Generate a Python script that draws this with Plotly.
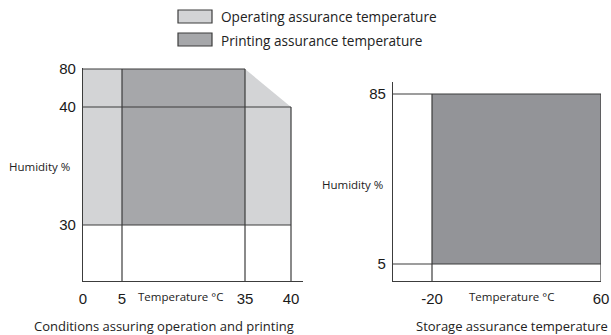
import numpy as np
import plotly.graph_objects as go

# --- Operating / printing conditions (left panel) ---
op_temp_ticks = [0, 5, 35, 40]          # °C
op_hum_ticks = [80, 40, 30]             # %
# operating region outline (temperature, humidity)
operating_temp = [0, 0, 35, 40, 40]
operating_hum = [30, 80, 80, 40, 30]
# printing region (rectangle)
printing_temp = [5, 35]
printing_hum = [30, 80]

# --- Storage conditions (right panel) ---
st_temp_ticks = [-20, 60]
st_hum_ticks = [85, 5]
storage_temp = [-20, 60]
storage_hum = [5, 85]

LIGHT = "#d3d4d6"
MID = "#a6a7aa"
DARK = "#939498"
EDGE = "#3c3c3c"
NUM_FONT = dict(family="Liberation Sans, Arial", size=15, color="#1a1a1a")
TXT = "Open Sans"

W, H = 611, 335


# Schematic (non-linear) scales used by the diagram
def op_x(t):
    return np.interp(t, [0, 5, 35, 40, 45], [0, 39, 162, 208, 220])


def op_y(h):
    return np.interp(h, [0, 30, 40, 80, 85], [0, 56, 174, 212, 217])


def st_x(t):
    return np.interp(t, [-40, -20, 60], [0, 39, 208])


def st_y(h):
    return np.interp(h, [0, 5, 85, 90], [0, 17, 187, 197])


def px(x):
    return x / W


def py(y):
    return 1 - y / H


fig = go.Figure()

# left panel fills
fig.add_trace(go.Scatter(x=op_x(operating_temp), y=op_y(operating_hum), fill="toself",
                         fillcolor=LIGHT, line=dict(width=0), mode="lines",
                         xaxis="x", yaxis="y", hoverinfo="skip"))
fig.add_trace(go.Scatter(x=op_x([printing_temp[0], printing_temp[0], printing_temp[1], printing_temp[1]]),
                         y=op_y([printing_hum[0], printing_hum[1], printing_hum[1], printing_hum[0]]),
                         fill="toself", fillcolor=MID, line=dict(width=0), mode="lines",
                         xaxis="x", yaxis="y", hoverinfo="skip"))

# left panel grid segments
lx, ly = [], []
for h, tmax in [(80, 35), (40, 40), (30, 40)]:
    lx += [op_x(0), op_x(tmax), None]
    ly += [op_y(h), op_y(h), None]
for t, hmax in [(5, 80), (35, 80), (40, 40)]:
    lx += [op_x(t), op_x(t), None]
    ly += [0, op_y(hmax), None]
fig.add_trace(go.Scatter(x=lx, y=ly, mode="lines", line=dict(color=EDGE, width=1.2),
                         xaxis="x", yaxis="y", hoverinfo="skip"))

# right panel fill
fig.add_trace(go.Scatter(x=st_x([storage_temp[0], storage_temp[0], storage_temp[1], storage_temp[1]]),
                         y=st_y([storage_hum[0], storage_hum[1], storage_hum[1], storage_hum[0]]),
                         fill="toself", fillcolor=DARK, line=dict(width=0), mode="lines",
                         xaxis="x2", yaxis="y2", hoverinfo="skip"))
rx, ry = [], []
for h in storage_hum:
    rx += [0, st_x(storage_temp[1]), None]
    ry += [st_y(h), st_y(h), None]
for t in storage_temp:
    rx += [st_x(t), st_x(t), None]
    ry += [0, st_y(storage_hum[1]), None]
fig.add_trace(go.Scatter(x=rx, y=ry, mode="lines", line=dict(color=EDGE, width=1.2),
                         xaxis="x2", yaxis="y2", hoverinfo="skip"))

axis_common = dict(showgrid=False, zeroline=False, showline=True, linecolor=EDGE,
                   linewidth=1.2, ticks="", tickfont=NUM_FONT, fixedrange=True)

fig.update_layout(
    width=W, height=H, margin=dict(l=0, r=0, t=0, b=0, pad=0, autoexpand=False),
    paper_bgcolor="white", plot_bgcolor="rgba(0,0,0,0)", showlegend=False,
    xaxis=dict(domain=[px(83), px(303)], range=[0, 220], anchor="y",
               tickvals=list(op_x(op_temp_ticks)), ticktext=[str(v) for v in op_temp_ticks],
               ticklabelstandoff=4, **axis_common),
    yaxis=dict(domain=[py(281), py(68)], range=[0, 213], anchor="x",
               tickvals=list(op_y(op_hum_ticks)), ticktext=[str(v) for v in op_hum_ticks],
               ticklabelstandoff=3, **axis_common),
    xaxis2=dict(domain=[px(393), px(601)], range=[0, 208], anchor="y2",
                tickvals=list(st_x(st_temp_ticks)), ticktext=[str(v) for v in st_temp_ticks],
                ticklabelstandoff=4, **axis_common),
    yaxis2=dict(domain=[py(281), py(82)], range=[0, 199], anchor="x2",
                tickvals=list(st_y(st_hum_ticks)), ticktext=[str(v) for v in st_hum_ticks],
                ticklabelstandoff=3, **axis_common),
)

small = dict(family=TXT, size=11.5, color="#222")
big = dict(family=TXT, size=13, color="#222")
legend_font = dict(family=TXT, size=13.6, color="#222")
ann = [
    dict(x=px(39), y=py(166), text="Humidity %", font=small),
    dict(x=px(352), y=py(184), text="Humidity %", font=small),
    dict(x=px(181), y=py(296), text="Temperature °C", font=small),
    dict(x=px(512), y=py(296), text="Temperature °C", font=small),
    dict(x=px(164), y=py(326), text="Conditions assuring operation and printing", font=big),
    dict(x=px(512), y=py(326), text="Storage assurance temperature", font=big),
    dict(x=px(219), y=py(17), text="Operating assurance temperature", font=legend_font, xanchor="left"),
    dict(x=px(219), y=py(40), text="Printing assurance temperature", font=legend_font, xanchor="left"),
]
for a in ann:
    a.setdefault("xanchor", "center")
    fig.add_annotation(xref="paper", yref="paper", yanchor="middle", showarrow=False, **a)

# legend swatches
for y0, y1, col in [(10, 23, LIGHT), (33, 46, MID)]:
    fig.add_shape(type="rect", xref="paper", yref="paper", x0=px(178), x1=px(212),
                  y0=py(y1), y1=py(y0), fillcolor=col, line=dict(color=EDGE, width=1.2))

fig.write_html("out.html")
